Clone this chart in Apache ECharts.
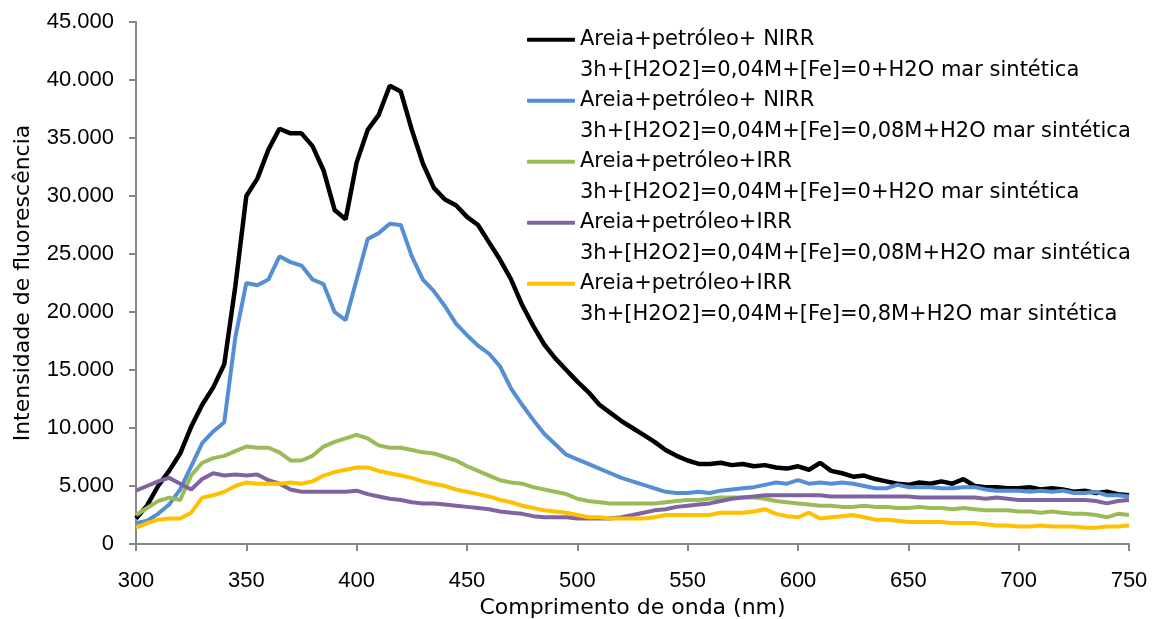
<!DOCTYPE html>
<html>
<head>
    <meta charset="utf-8">
    <title>Fluorescência</title>
    <script src="https://cdn.jsdelivr.net/npm/echarts@6/dist/echarts.min.js"></script>
    <style>
        html, body { margin:0; padding:0; background:#fff; }
        #main { width:1161px; height:619px; }
    </style>
</head>
<body>
<div id="main"></div>
<script>
// comprimento de onda (nm), passo de 5 nm
var wavelengths = [];
for (var w = 300; w <= 750; w += 5) { wavelengths.push(w); }

var seriesNames = [
    'Areia+petróleo+ NIRR\n3h+[H2O2]=0,04M+[Fe]=0+H2O mar sintética',
    'Areia+petróleo+ NIRR\n3h+[H2O2]=0,04M+[Fe]=0,08M+H2O mar sintética',
    'Areia+petróleo+IRR\n3h+[H2O2]=0,04M+[Fe]=0+H2O mar sintética',
    'Areia+petróleo+IRR\n3h+[H2O2]=0,04M+[Fe]=0,08M+H2O mar sintética',
    'Areia+petróleo+IRR\n3h+[H2O2]=0,04M+[Fe]=0,8M+H2O mar sintética'
];
var seriesColors = ['#000000', '#558ED5', '#9BBB59', '#8064A2', '#FFC000'];

var nirrFe0 = [
    2200, 3300, 5000, 6300, 7800, 10100, 12000, 13500, 15500, 22200,
    30000, 31500, 34000, 35800, 35400, 35400, 34300, 32200, 28800, 28000,
    32900, 35700, 37000, 39500, 39000, 35700, 32800, 30700, 29700, 29200,
    28200, 27500, 26000, 24500, 22800, 20600, 18800, 17200, 16000, 15000,
    14000, 13100, 12000, 11300, 10600, 10000, 9400, 8800, 8100, 7600,
    7200, 6900, 6900, 7000, 6800, 6900, 6700, 6800, 6600, 6500,
    6700, 6400, 7000, 6300, 6100, 5800, 5900, 5600, 5400, 5200,
    5100, 5300, 5200, 5400, 5200, 5600, 5000, 4900, 4900, 4800,
    4800, 4900, 4700, 4800, 4700, 4500, 4600, 4400, 4500, 4300,
    4200
];
var nirrFe008 = [
    1800, 2000, 2600, 3400, 4700, 6700, 8700, 9700, 10500, 17800,
    22500, 22300, 22800, 24800, 24300, 24000, 22800, 22400, 20000, 19300,
    22800, 26300, 26800, 27600, 27500, 24800, 22800, 21800, 20500, 19000,
    18000, 17100, 16400, 15300, 13400, 12000, 10700, 9500, 8600, 7700,
    7300, 6900, 6500, 6100, 5700, 5400, 5100, 4800, 4500, 4400,
    4400, 4500, 4400, 4600, 4700, 4800, 4900, 5100, 5300, 5200,
    5500, 5200, 5300, 5200, 5300, 5200, 5000, 4800, 4800, 5100,
    4900, 4900, 4900, 4800, 4800, 4900, 4900, 4700, 4600, 4600,
    4600, 4500, 4600, 4500, 4600, 4400, 4400, 4500, 4200, 4200,
    4100
];
var irrFe0 = [
    2500, 3100, 3700, 4000, 3800, 5900, 7000, 7400, 7600, 8000,
    8400, 8300, 8300, 7900, 7200, 7200, 7600, 8400, 8800, 9100,
    9400, 9100, 8500, 8300, 8300, 8100, 7900, 7800, 7500, 7200,
    6700, 6300, 5900, 5500, 5300, 5200, 4900, 4700, 4500, 4300,
    3900, 3700, 3600, 3500, 3500, 3500, 3500, 3500, 3600, 3700,
    3800, 3800, 3900, 4000, 4000, 4000, 4000, 3900, 3700, 3600,
    3500, 3400, 3300, 3300, 3200, 3200, 3300, 3200, 3200, 3100,
    3100, 3200, 3100, 3100, 3000, 3100, 3000, 2900, 2900, 2900,
    2800, 2800, 2700, 2800, 2700, 2600, 2600, 2500, 2300, 2600,
    2500
];
var irrFe008 = [
    4600, 5000, 5400, 5700, 5200, 4700, 5600, 6100, 5900, 6000,
    5900, 6000, 5500, 5200, 4700, 4500, 4500, 4500, 4500, 4500,
    4600, 4300, 4100, 3900, 3800, 3600, 3500, 3500, 3400, 3300,
    3200, 3100, 3000, 2800, 2700, 2600, 2400, 2300, 2300, 2300,
    2200, 2200, 2200, 2200, 2300, 2500, 2700, 2900, 3000, 3200,
    3300, 3400, 3500, 3700, 3900, 4000, 4100, 4200, 4200, 4200,
    4200, 4200, 4200, 4100, 4100, 4100, 4100, 4100, 4100, 4100,
    4100, 4000, 4000, 4000, 4000, 4000, 4000, 3900, 4000, 3900,
    3800, 3800, 3800, 3800, 3800, 3800, 3800, 3700, 3500, 3700,
    3800
];
var irrFe08 = [
    1400, 1800, 2100, 2200, 2200, 2700, 4000, 4200, 4500, 5000,
    5300, 5200, 5200, 5200, 5300, 5200, 5400, 5900, 6200, 6400,
    6600, 6600, 6300, 6100, 5900, 5700, 5400, 5200, 5000, 4700,
    4500, 4300, 4100, 3800, 3600, 3300, 3100, 2900, 2800, 2700,
    2500, 2300, 2300, 2200, 2200, 2200, 2200, 2300, 2500, 2500,
    2500, 2500, 2500, 2700, 2700, 2700, 2800, 3000, 2600, 2400,
    2300, 2700, 2200, 2300, 2400, 2500, 2300, 2100, 2100, 2000,
    1900, 1900, 1900, 1900, 1800, 1800, 1800, 1700, 1600, 1600,
    1500, 1500, 1600, 1500, 1500, 1500, 1400, 1400, 1500, 1500,
    1600
];
var allValues = [nirrFe0, nirrFe008, irrFe0, irrFe008, irrFe08];

var chart = echarts.init(document.getElementById('main'));

var axisGray = '#868686';
var series = [];
for (var i = 0; i < allValues.length; i++) {
    var vals = allValues[i];
    series.push({
        name: seriesNames[i],
        type: 'line',
        showSymbol: false,
        smooth: false,
        color: seriesColors[i],
        lineStyle: { color: seriesColors[i], width: i === 0 ? 4.5 : 4 },
        data: wavelengths.map(function (x, k) { return [x, vals[k]]; })
    });
}

var option = {
    backgroundColor: '#fff',
    animation: false,
    grid: {
        left: 136,
        right: 32,
        top: 22,
        bottom: 75,
        outerBoundsMode: 'none'
    },
    legend: {
        orient: 'vertical',
        left: 527,
        top: -6,
        padding: 0,
        itemGap: -30.5,
        itemWidth: 48,
        itemHeight: 4,
        icon: 'roundRect',
        data: seriesNames,
        // linha em branco no início: o ícone fica alinhado com a 1ª linha
        formatter: function (name) { return '\n' + name; },
        textStyle: {
            fontFamily: 'DejaVu Sans',
            fontSize: 21,
            lineHeight: 30.5,
            color: '#000'
        }
    },
    xAxis: {
        type: 'value',
        min: 300,
        max: 750,
        interval: 50,
        name: 'Comprimento de onda (nm)',
        nameLocation: 'middle',
        nameGap: 48,
        nameTextStyle: { fontFamily: 'DejaVu Sans', fontSize: 22, color: '#000' },
        axisLine: { show: true, lineStyle: { color: axisGray, width: 2 } },
        axisTick: { show: true, length: 7, lineStyle: { color: axisGray, width: 2 } },
        splitLine: { show: false },
        axisLabel: {
            margin: 26,
            fontFamily: 'Liberation Sans',
            fontSize: 22,
            color: '#000'
        }
    },
    yAxis: {
        type: 'value',
        min: 0,
        max: 45000,
        interval: 5000,
        name: 'Intensidade de fluorescência',
        nameLocation: 'middle',
        nameGap: 102,
        nameTextStyle: { fontFamily: 'DejaVu Sans', fontSize: 22, color: '#000' },
        axisLine: { show: true, lineStyle: { color: axisGray, width: 2 } },
        axisTick: { show: true, length: 7, lineStyle: { color: axisGray, width: 2 } },
        splitLine: { show: false },
        axisLabel: {
            margin: 22,
            fontFamily: 'Liberation Sans',
            fontSize: 22,
            color: '#000',
            formatter: function (v) {
                return String(v).replace(/\B(?=(\d{3})+(?!\d))/g, '.');
            }
        }
    },
    series: series
};

chart.setOption(option);
</script>
</body>
</html>
